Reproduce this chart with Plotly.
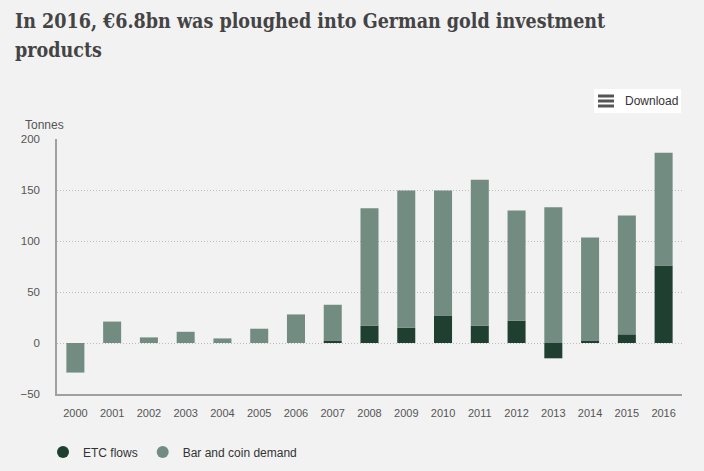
import plotly.graph_objects as go

years = [str(y) for y in range(2000, 2017)]
etc_flows = [0, 0, 0, 0, 0, 0, 0, 2.5, 17, 15, 27, 17, 22, -15, 2.5, 8.5, 76]
bar_coin = [-29, 21, 5.5, 11, 4.5, 14, 28, 35, 115, 134.5, 122.5, 143, 108, 133, 101, 116.5, 110.5]
y_ticks = [-50, 0, 50, 100, 150, 200]

DARK = "#1f4031"
LIGHT = "#738c81"
BG = "#f2f2f2"

L, R, T, B = 57, 22, 139, 77
W, H = 704, 471
PW, PH = W - L - R, H - T - B


def px_x(x):
    return (x - L) / PW


def px_y(y):
    return (H - B - y) / PH


fig = go.Figure()
fig.add_trace(go.Bar(x=years, y=etc_flows, name="ETC flows", marker_color=DARK,
                     marker_line_width=0, showlegend=False, hoverinfo="x+y+name"))
fig.add_trace(go.Bar(x=years, y=bar_coin, name="Bar and coin demand", marker_color=LIGHT,
                     marker_line_width=0, showlegend=False, hoverinfo="x+y+name"))
# legend entries with round markers
fig.add_trace(go.Scatter(x=[None], y=[None], mode="markers", name="ETC flows",
                         marker=dict(color=DARK, size=12, symbol="circle")))
fig.add_trace(go.Scatter(x=[None], y=[None], mode="markers", name="Bar and coin demand",
                         marker=dict(color=LIGHT, size=12, symbol="circle")))

fig.update_layout(
    width=W, height=H,
    margin=dict(l=L, r=R, t=T, b=B, pad=0, autoexpand=False),
    paper_bgcolor=BG, plot_bgcolor=BG,
    barmode="relative", bargap=0.51,
    font=dict(family="Liberation Sans, Arial, sans-serif", size=11, color="#555555"),
    legend=dict(orientation="h", xref="container", yref="container",
                x=43 / W, y=1 - 452 / H, xanchor="left", yanchor="middle",
                font=dict(size=12, color="#333333"), bgcolor="rgba(0,0,0,0)",
                itemclick=False),
    xaxis=dict(type="category", showgrid=False, showline=True, linecolor="#a0a0a0",
               linewidth=1.5, ticks="", ticklabelstandoff=8, fixedrange=True,
               tickfont=dict(size=11, color="#555555")),
    yaxis=dict(range=[-50, 200], tickvals=y_ticks, showgrid=True, gridcolor="#bdbdbd",
               griddash="1px,2px", gridwidth=1, zeroline=False, showline=True,
               linecolor="#a0a0a0", linewidth=1.5, ticks="", ticklabelstandoff=13,
               fixedrange=True, tickfont=dict(size=11.5, color="#555555")),
    showlegend=True,
)

TITLE_FONT = dict(family="DejaVu Serif Condensed, DejaVu Serif", weight="bold", size=19.5,
                  color="#444444")
annotations = [
    dict(text="In 2016, €6.8bn was ploughed into German gold investment", x=px_x(13), y=px_y(21),
         xanchor="left", yanchor="middle", showarrow=False, font=TITLE_FONT),
    dict(text="products", x=px_x(13), y=px_y(51),
         xanchor="left", yanchor="middle", showarrow=False, font=TITLE_FONT),
    dict(text="Tonnes", x=px_x(23), y=px_y(125), xanchor="left", yanchor="middle",
         showarrow=False, font=dict(size=12, color="#555555")),
    dict(text="Download", x=px_x(623), y=px_y(101), xanchor="left", yanchor="middle",
         showarrow=False, font=dict(size=12, color="#333333")),
]
for a in annotations:
    a.update(xref="paper", yref="paper")
fig.update_layout(annotations=annotations)

shapes = [dict(type="rect", x0=px_x(594), x1=px_x(681), y0=px_y(113), y1=px_y(89),
               fillcolor="white", line=dict(width=0), layer="below")]
for yy in (96, 101, 106):
    shapes.append(dict(type="line", x0=px_x(598), x1=px_x(614), y0=px_y(yy), y1=px_y(yy),
                       line=dict(color="#555555", width=3)))
for s in shapes:
    s.update(xref="paper", yref="paper")
fig.update_layout(shapes=shapes)

fig.write_html("out.html", config={"displayModeBar": False})
